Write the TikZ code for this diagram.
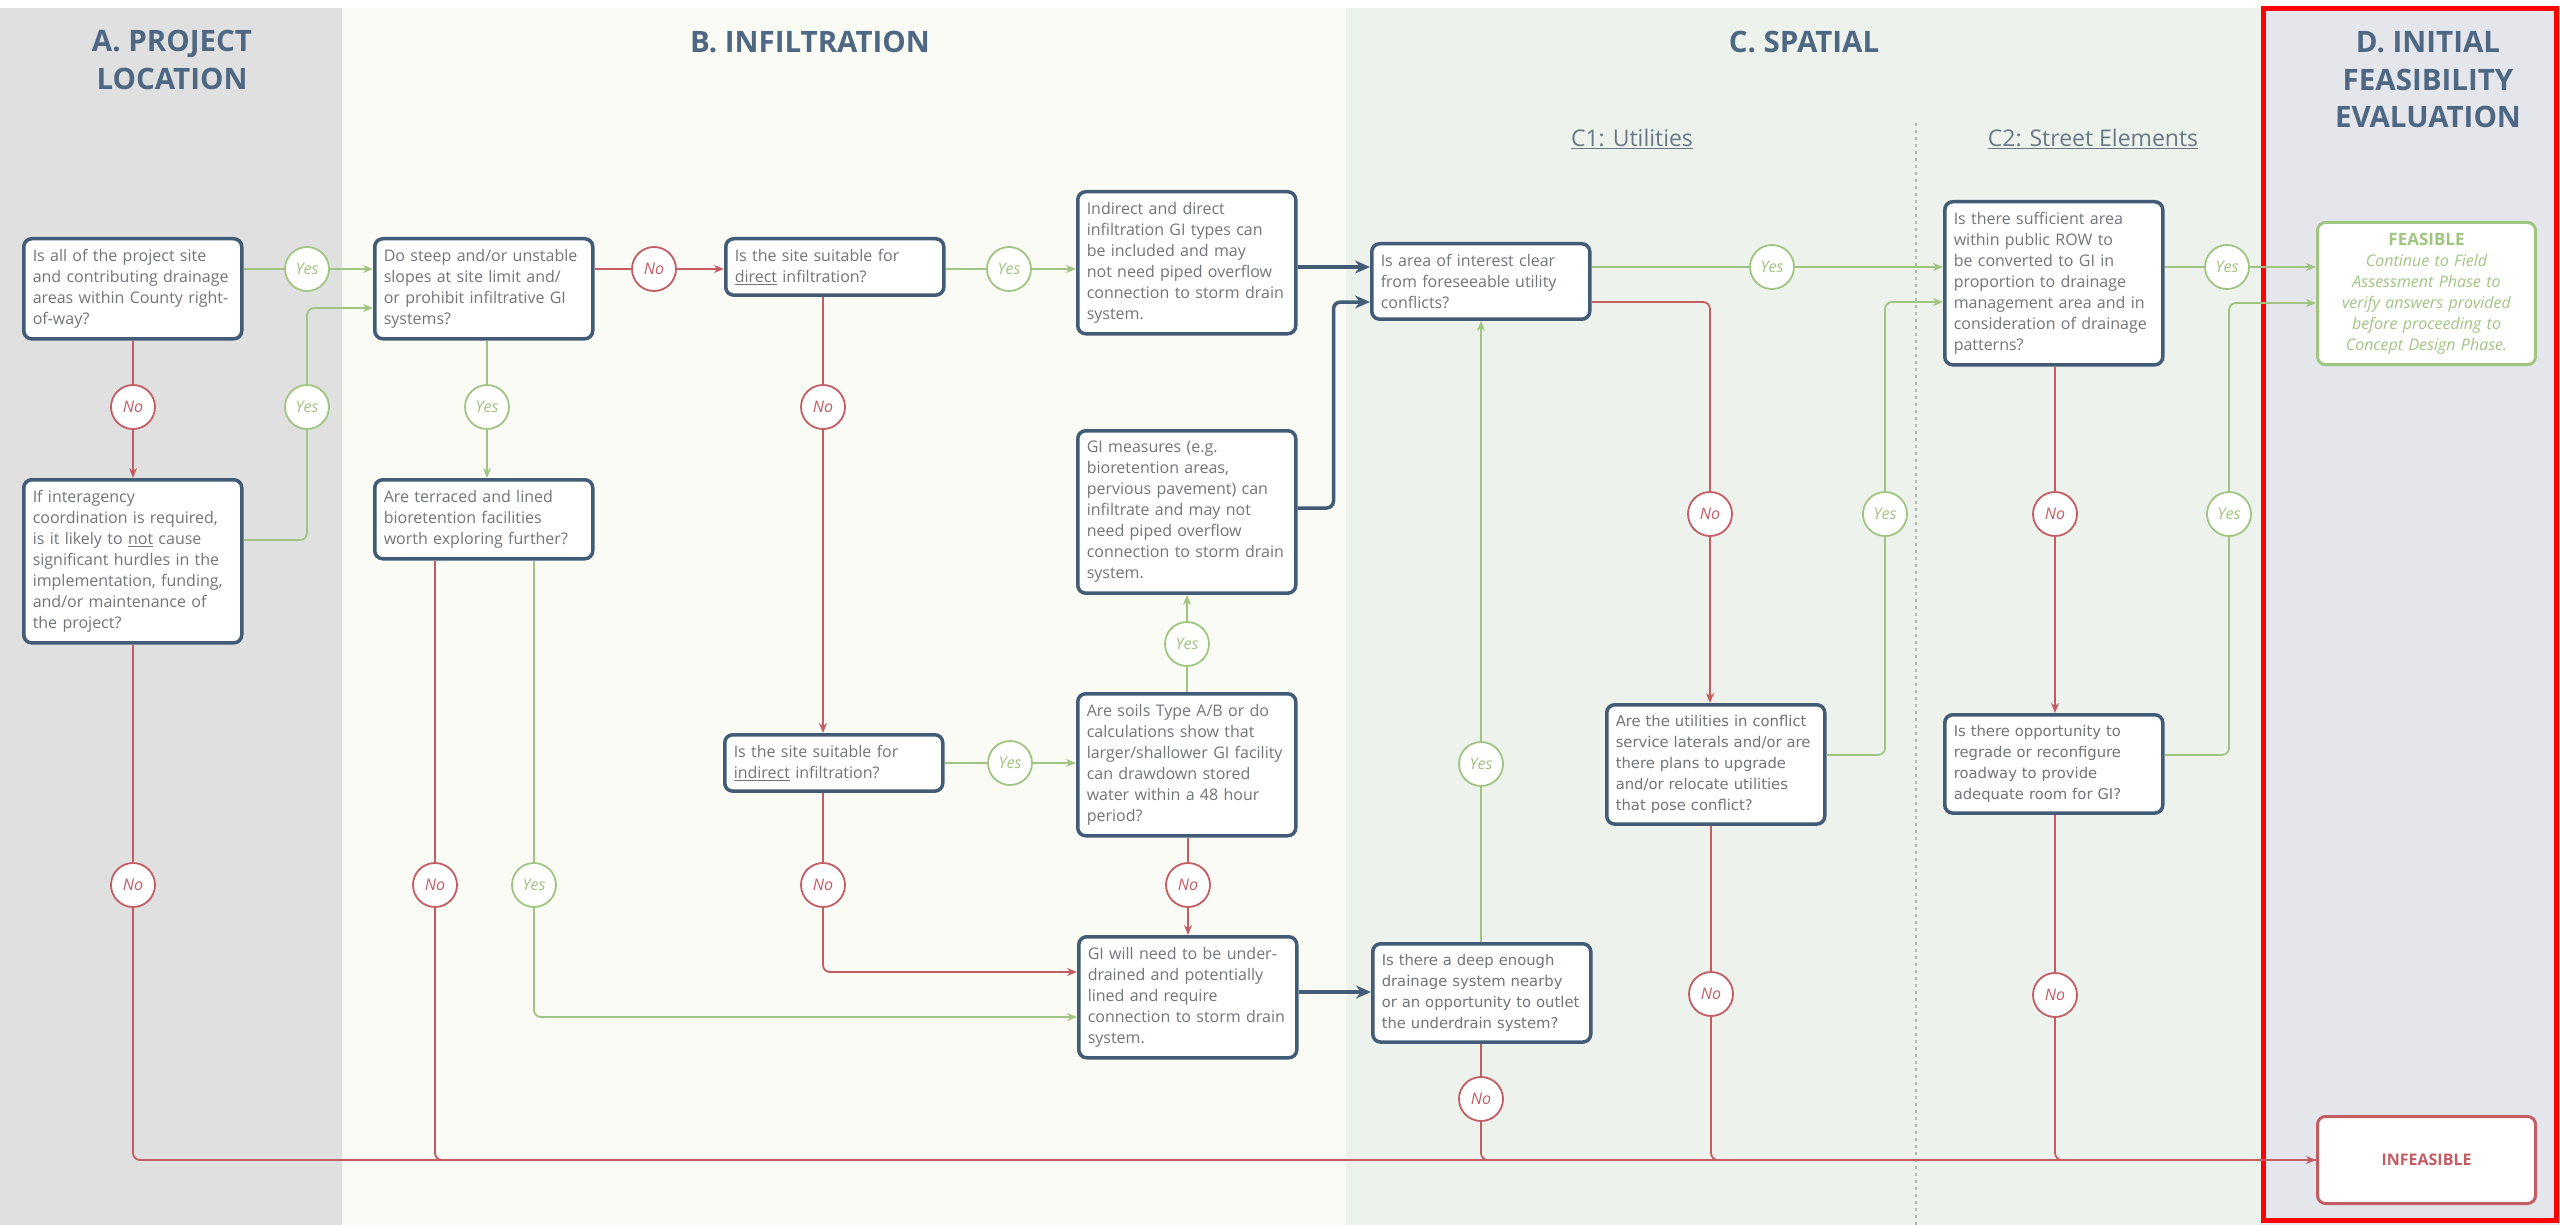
\documentclass[tikz,border=0pt]{standalone}
\usepackage{fontspec}
\setmainfont{Open Sans}
\newfontfamily\widefont{DejaVu Sans}
\usepackage{tikz}
\usetikzlibrary{arrows.meta,positioning,calc}

\definecolor{boxblue}{RGB}{66,92,120}
\definecolor{boxtext}{RGB}{112,117,124}
\definecolor{nored}{RGB}{196,92,100}
\definecolor{yesgreen}{RGB}{160,197,130}
\definecolor{titleblue}{RGB}{78,104,132}
\definecolor{subgray}{RGB}{106,120,134}
\definecolor{bandA}{RGB}{224,224,224}
\definecolor{bandB}{RGB}{251,251,246}
\definecolor{bandC}{RGB}{238,242,236}
\definecolor{bandD}{RGB}{228,230,235}
\definecolor{splitgray}{RGB}{170,188,170}
\definecolor{framered}{RGB}{255,0,0}

\tikzset{
  qbox/.style={draw=boxblue, line width=3.5pt, rounded corners=8pt, fill=white,
    text=boxtext, align=left, text width=200pt, inner xsep=9pt, inner ysep=10.5pt,
    anchor=north west, font=\fontsize{16}{21}\selectfont},
  qboxwide/.style={qbox, font=\widefont\fontsize{14.8}{21}\selectfont},
  endbox/.style={qbox, align=center, line width=3pt},
  yesmark/.style={circle, draw=yesgreen, line width=1.8pt, fill=white, minimum size=44pt,
    inner sep=0pt, text=yesgreen, font=\itshape\fontsize{16}{16}\selectfont},
  nomark/.style={yesmark, draw=nored, text=nored},
  yesline/.style={draw=yesgreen, line width=1.8pt, rounded corners=7pt},
  noline/.style={draw=nored, line width=1.8pt, rounded corners=7pt},
  yesarrow/.style={yesline, -{Stealth[length=10pt,width=8pt]}},
  noarrow/.style={noline, -{Stealth[length=10pt,width=8pt]}},
  flowarrow/.style={draw=boxblue, line width=3.5pt, rounded corners=7pt, -{Stealth[length=15pt,width=13pt]}},
  sectitle/.style={text=titleblue, align=center, font=\bfseries\fontsize{29.5}{37.5}\selectfont},
  subtitle/.style={text=subgray, font=\fontsize{23}{26}\selectfont},
}

\begin{document}
\begin{tikzpicture}[x=1pt,y=-1pt]
\useasboundingbox (0,0) rectangle (2560,1225);

% column bands
\fill[white] (0,0) rectangle (2560,1225);
\fill[bandA] (0,8) rectangle (342,1225);
\fill[bandB] (342,8) rectangle (1346,1225);
\fill[bandC] (1346,8) rectangle (2261,1225);
\fill[bandD] (2261,8) rectangle (2560,1225);
\draw[splitgray, line width=1.5pt, dash pattern=on 3pt off 4pt] (1916,123) -- (1916,1225);
\draw[framered, line width=5pt] (2263,9) rectangle (2556,1220);

\node[sectitle] (tA) at (172,60) {A. PROJECT\\LOCATION};
\node[sectitle] (tB) at (810,42) {B. INFILTRATION};
\node[sectitle] (tC) at (1804,42) {C. SPATIAL};
\node[sectitle] (tD) at (2428,80) {D. INITIAL\\FEASIBILITY\\EVALUATION};
\node[subtitle] (tC1) at (1632,139) {\underline{C1: Utilities}};
\node[subtitle] (tC2) at (2093,139) {\underline{C2: Street Elements}};

% question boxes
\node[qbox] (A1) at (22,237) {Is all of the project site\\and contributing drainage\\areas within County right-\\of-way?};
\node[qbox] (A2) at (22,478) {If interagency\\coordination is required,\\is it likely to \underline{not} cause\\significant hurdles in the\\implementation, funding,\\and/or maintenance of\\the project?};
\node[qbox] (B1) at (373,237) {Do steep and/or unstable\\slopes at site limit and/\\or prohibit infiltrative GI\\systems?};
\node[qbox] (B2) at (373,478) {Are terraced and lined\\bioretention facilities\\worth exploring further?};
\node[qbox] (B3) at (724,237) {Is the site suitable for\\\underline{direct} infiltration?};
\node[qbox] (B4) at (1076,190) {Indirect and direct\\infiltration GI types can\\be included and may\\not need piped overflow\\connection to storm drain\\system.};
\node[qbox] (B5) at (1076,429) {GI measures (e.g.\\bioretention areas,\\pervious pavement) can\\infiltrate and may not\\need piped overflow\\connection to storm drain\\system.};
\node[qbox] (B6) at (723,733) {Is the site suitable for\\\underline{indirect} infiltration?};
\node[qbox] (B7) at (1076,692) {Are soils Type A/B or do\\calculations show that\\larger/shallower GI facility\\can drawdown stored\\water within a 48 hour\\period?};
\node[qbox] (B8) at (1077,935) {GI will need to be under-\\drained and potentially\\lined and require\\connection to storm drain\\system.};
\node[qbox] (C1a) at (1370,242) {Is area of interest clear\\from foreseeable utility\\conflicts?};
\node[qboxwide] (C1b) at (1605,703) {Are the utilities in conflict\\service laterals and/or are\\there plans to upgrade\\and/or relocate utilities\\that pose conflict?};
\node[qboxwide] (C1c) at (1371,942) {Is there a deep enough\\drainage system nearby\\or an opportunity to outlet\\the underdrain system?};
\node[qbox] (C2a) at (1943,200) {Is there sufficient area\\within public ROW to\\be converted to GI in\\proportion to drainage\\management area and in\\consideration of drainage\\patterns?};
\node[qboxwide] (C2b) at (1943,713) {Is there opportunity to\\regrade or reconfigure\\roadway to provide\\adequate room for GI?};

% outcomes
\node[endbox, draw=yesgreen, text=yesgreen, minimum height=141pt] (FEAS) at (2316,221)
  {{\bfseries\fontsize{17}{21}\selectfont FEASIBLE}\\\itshape Continue to Field\\Assessment Phase to\\verify answers provided\\before proceeding to\\Concept Design Phase.};
\node[endbox, draw=nored, text=nored, minimum height=87pt] (INFEAS) at (2316,1115)
  {\bfseries INFEASIBLE};

% answer marks
\node[yesmark] (Y1) at (307,269) {Yes};
\node[nomark] (N1) at (133,407) {No};
\node[yesmark] (Y2) at (307,407) {Yes};
\node[nomark] (N2) at (654,269) {No};
\node[yesmark] (Y3) at (487,407) {Yes};
\node[yesmark] (Y4) at (1009,269) {Yes};
\node[nomark] (N3) at (823,407) {No};
\node[yesmark] (Y5) at (1010,763) {Yes};
\node[yesmark] (Y6) at (1187,644) {Yes};
\node[nomark] (N4) at (823,885) {No};
\node[nomark] (N5) at (1188,885) {No};
\node[nomark] (N6) at (435,885) {No};
\node[yesmark] (Y7) at (534,885) {Yes};
\node[nomark] (N7) at (133,885) {No};
\node[yesmark] (Y8) at (1481,764) {Yes};
\node[nomark] (N8) at (1481,1099) {No};
\node[yesmark] (Y9) at (1772,267) {Yes};
\node[nomark] (N9) at (1710,514) {No};
\node[yesmark] (Y10) at (1885,514) {Yes};
\node[nomark] (N10) at (1711,994) {No};
\node[yesmark] (Y11) at (2227,267) {Yes};
\node[nomark] (N11) at (2055,514) {No};
\node[yesmark] (Y12) at (2229,514) {Yes};
\node[nomark] (N12) at (2055,995) {No};

% exit and entry points off the box middles
\coordinate (a2out) at ([yshift=-62pt]A2.north east);
\coordinate (b1in) at ([yshift=-71pt]B1.north west);
\coordinate (b5out) at ([yshift=-79pt]B5.north east);
\coordinate (c1ain) at ([yshift=-60pt]C1a.north west);
\coordinate (c1aout) at ([yshift=-60pt]C1a.north east);
\coordinate (b8in) at ([yshift=-37pt]B8.north west);
\coordinate (b8low) at ([yshift=-82pt]B8.north west);
\coordinate (b8out) at ([yshift=-57pt]B8.north east);
\coordinate (c1bout) at ([yshift=-52pt]C1b.north east);
\coordinate (c2ain) at ([yshift=-102pt]C2a.north west);
\coordinate (c2bout) at ([yshift=-42pt]C2b.north east);
\coordinate (feasin) at ([yshift=-82pt]FEAS.north west);

% A. project location
\draw[yesline] (A1.east |- Y1) -- (Y1);
\draw[yesarrow] (Y1) -- (B1.west |- Y1);
\draw[noline] (N1 |- A1.south) -- (N1);
\draw[noarrow] (N1) -- (N1 |- A2.north);
\draw[yesline] (a2out) -| (Y2);
\draw[yesarrow] (Y2) |- (b1in);
\draw[noline] (N7 |- A2.south) -- (N7);
\draw[noarrow] (N7) |- (INFEAS.west);

% B. infiltration
\draw[noline] (B1.east |- N2) -- (N2);
\draw[noarrow] (N2) -- (B3.west |- N2);
\draw[yesline] (Y3 |- B1.south) -- (Y3);
\draw[yesarrow] (Y3) -- (Y3 |- B2.north);
\draw[noline] (N6 |- B2.south) -- (N6);
\draw[noline] (N6) |- (INFEAS.west);
\draw[yesline] (Y7 |- B2.south) -- (Y7);
\draw[yesarrow] (Y7) |- (b8low);
\draw[yesline] (B3.east |- Y4) -- (Y4);
\draw[yesarrow] (Y4) -- (B4.west |- Y4);
\draw[noline] (N3 |- B3.south) -- (N3);
\draw[noarrow] (N3) -- (N3 |- B6.north);
\draw[yesline] (B6.east |- Y5) -- (Y5);
\draw[yesarrow] (Y5) -- (B7.west |- Y5);
\draw[noline] (N4 |- B6.south) -- (N4);
\draw[noarrow] (N4) |- (b8in);
\draw[yesline] (Y6 |- B7.north) -- (Y6);
\draw[yesarrow] (Y6) -- (Y6 |- B5.south);
\draw[noline] (N5 |- B7.south) -- (N5);
\draw[noarrow] (N5) -- (N5 |- B8.north);
\draw[flowarrow] (B4.east |- Y9) -- (C1a.west |- Y9);
\draw[flowarrow] (b5out) -- ++(36,0) |- (c1ain);
\draw[flowarrow] (b8out) -- (b8out -| C1c.west);

% C. spatial
\draw[yesline] (C1a.east |- Y9) -- (Y9);
\draw[yesarrow] (Y9) -- (C2a.west |- Y9);
\draw[noline] (c1aout) -| (N9);
\draw[noarrow] (N9) -- (N9 |- C1b.north);
\draw[yesline] (c1bout) -| (Y10);
\draw[yesarrow] (Y10) |- (c2ain);
\draw[noline] (N10 |- C1b.south) -- (N10);
\draw[noline] (N10) |- (INFEAS.west);
\draw[yesline] (Y8 |- C1c.north) -- (Y8);
\draw[yesarrow] (Y8) -- (Y8 |- C1a.south);
\draw[noline] (N8 |- C1c.south) -- (N8);
\draw[noline] (N8) |- (INFEAS.west);
\draw[yesline] (C2a.east |- Y11) -- (Y11);
\draw[yesarrow] (Y11) -- (FEAS.west |- Y11);
\draw[noline] (N11 |- C2a.south) -- (N11);
\draw[noarrow] (N11) -- (N11 |- C2b.north);
\draw[yesline] (c2bout) -| (Y12);
\draw[yesarrow] (Y12) |- (feasin);
\draw[noline] (N12 |- C2b.south) -- (N12);
\draw[noline] (N12) |- (INFEAS.west);
\end{tikzpicture}
\end{document}
